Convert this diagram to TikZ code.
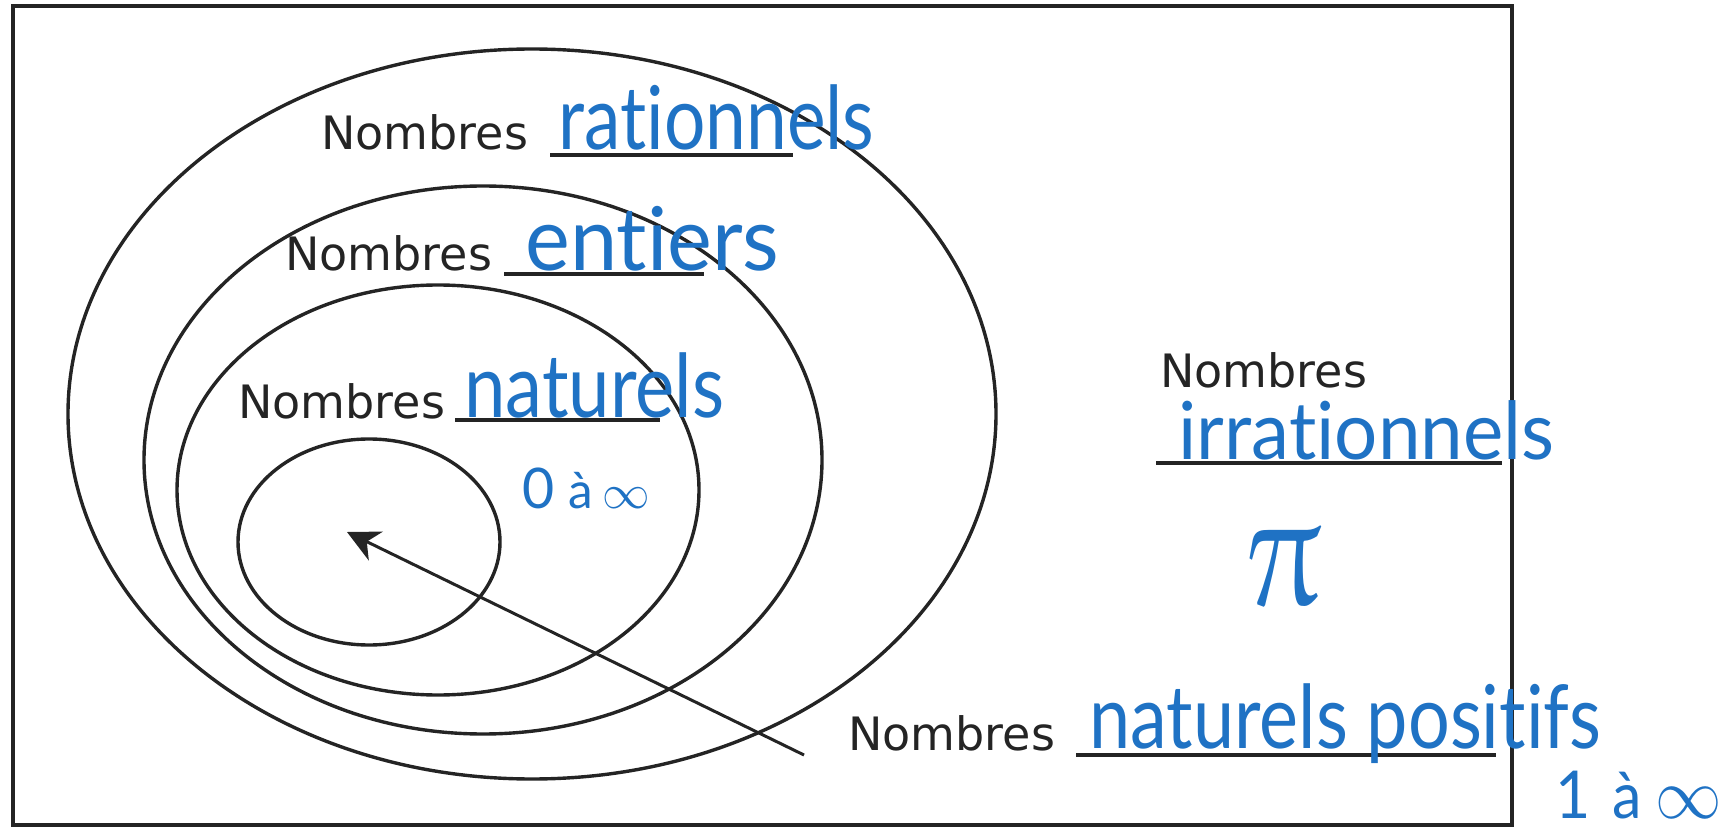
\documentclass[tikz,border=0pt]{standalone}
\usepackage{fix-cm}
\usepackage{fontspec}
\usepackage{graphicx}
\usetikzlibrary{arrows.meta}
\newfontfamily\printfont{DejaVu Sans}
\newfontfamily\handfont{Lato}[Ligatures=NoCommon]
\definecolor{ink}{HTML}{242424}
\definecolor{pen}{HTML}{1F72C4}
\newcommand{\hw}[2]{\resizebox{#1}{\height}{#2}}
\newcommand{\fs}[1]{\fontsize{#1}{#1}\selectfont}
\newcommand{\handpi}{{\usefont{U}{eur}{m}{n}\char25}}

\begin{document}
\begin{tikzpicture}[x=0.5pt, y=-0.5pt,
	setline/.style = {draw=ink, line width=1.7pt},
	blankline/.style = {draw=ink, line width=2.2pt},
	printed/.style = {anchor=base west, inner sep=0pt, text=ink, font=\printfont\fs{23}},
	word/.style = {anchor=base west, inner sep=0pt, text=pen, font=\handfont\fs{44}},
	note/.style = {anchor=base west, inner sep=0pt, text=pen, font=\handfont}]
		\useasboundingbox (0,0) rectangle (1734,828);
		\draw[draw=ink, line width=2pt] (13,6) rectangle (1512,825);
		\draw[setline] (532,414) ellipse [x radius=464, y radius=365];
		\draw[setline] (483,460) ellipse [x radius=339, y radius=274];
		\draw[setline] (438,490) ellipse [x radius=261, y radius=205];
		\draw[setline] (369,542) ellipse [x radius=131, y radius=103];
		\node[printed] (nrat) at (321,150) {Nombres};
		\node[printed] (nent) at (285,271) {Nombres};
		\node[printed] (nnat) at (238,418) {Nombres};
		\node[printed] (nirr) at (1160,388) {Nombres};
		\node[printed] (npos) at (848,750) {Nombres};
		\draw[blankline] (550,155) -- (793,155);
		\draw[blankline] (504,274) -- (704,274);
		\draw[blankline] (455,420) -- (660,420);
		\draw[blankline] (1156,463) -- (1502,463);
		\draw[blankline] (1076,755) -- (1496,755);
		\coordinate (tail) at (804,755);
		\coordinate (tip) at (347,532);
		\draw[-{Stealth[length=16pt, width=16pt, inset=5pt]}, draw=ink, line width=1.5pt] (tail) -- (tip);
		\node[word] (wrat) at (558,150) {\hw{158pt}{rationnels}};
		\node[word] (went) at (525,271) {\hw{127pt}{entiers}};
		\node[word] (wnat) at (464,418) {\hw{130pt}{naturels}};
		\node[word, font=\handfont\fs{40}] (wirr) at (1178,459) {\hw{188pt}{irrationnels}};
		\node[word] (wpos) at (1089,748) {\hw{256pt}{naturels positifs}};
		\node[note] (zero) at (522,508) {\hw{64pt}{\fs{28}0\hspace{7pt}\fs{25}à\hspace{5pt}\fs{24}$\infty$}};
		\node[note] (one) at (1555,818) {\hw{83pt}{\fs{33}1\hspace{12pt}\fs{32}à\hspace{7pt}\fs{36}$\infty$}};
		\node[text=pen, inner sep=0pt] (pi) at (1283,568) {\resizebox{36pt}{38pt}{\fs{60}\handpi}};
	\end{tikzpicture}
\end{document}
